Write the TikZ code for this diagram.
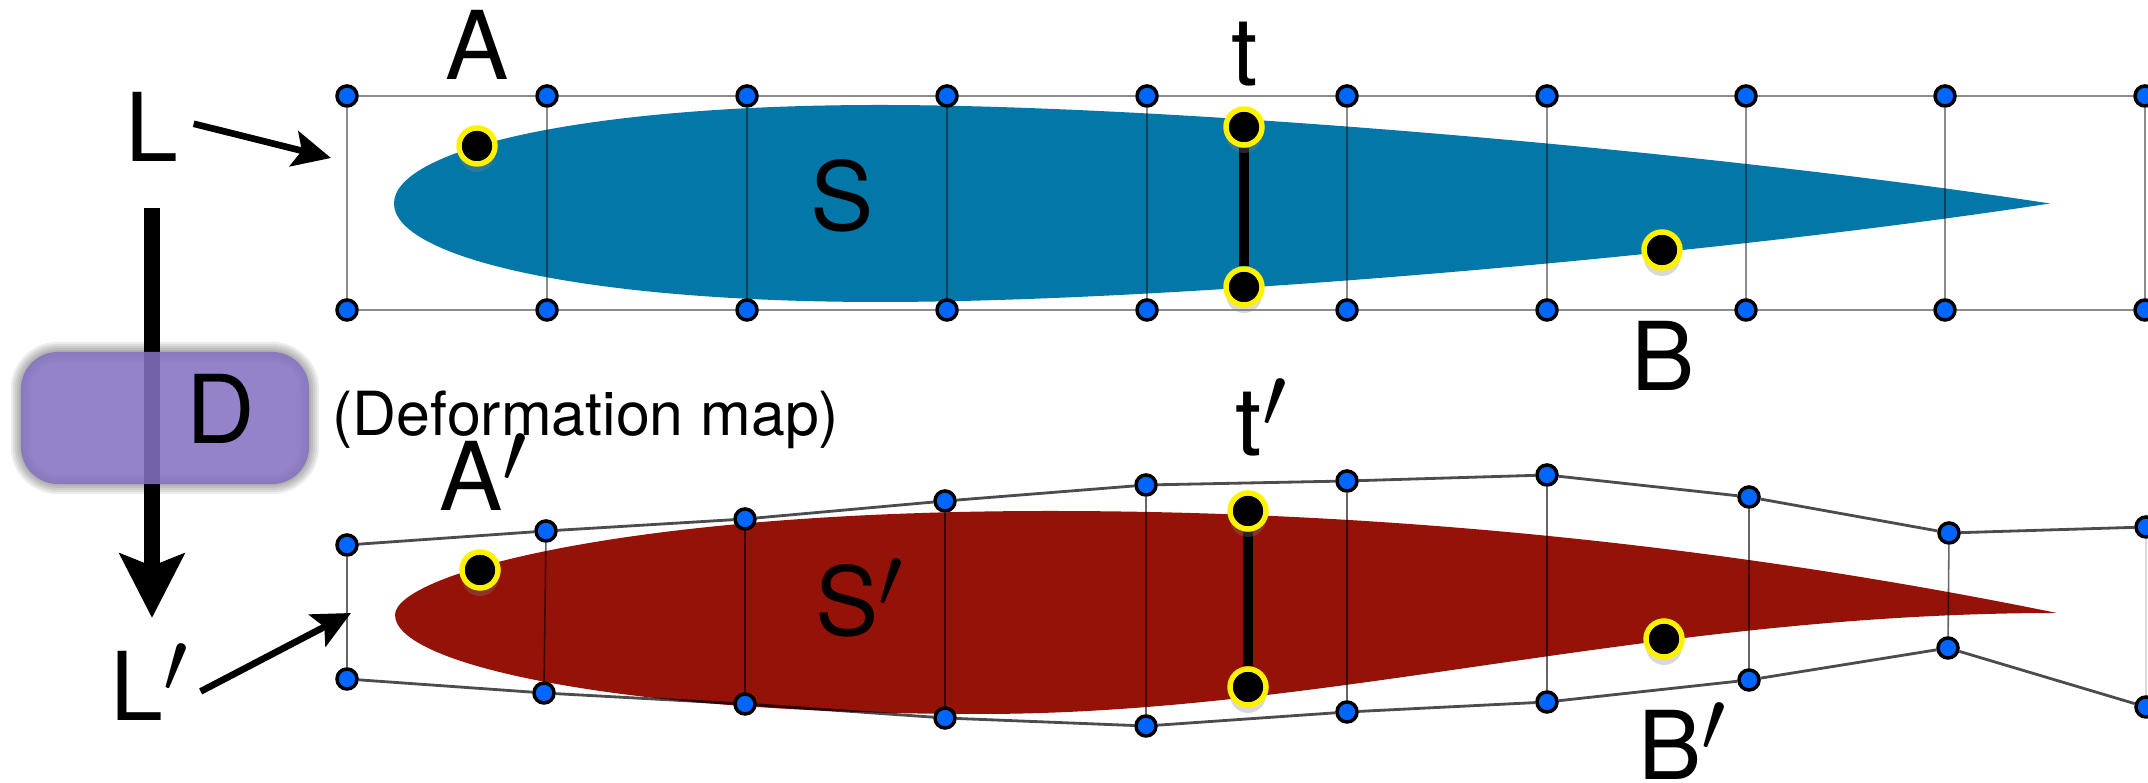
\documentclass[tikz,border=0pt]{standalone}
\usepackage{fontspec}
\setmainfont{TeX Gyre Heros}
\usetikzlibrary{arrows.meta,backgrounds,shadows}
\definecolor{WingBlue}{RGB}{2,119,168}
\definecolor{WingRed}{RGB}{149,18,8}
\definecolor{GridDot}{RGB}{0,102,255}
\definecolor{MapBand}{RGB}{132,113,192}
\definecolor{MarkYellow}{RGB}{255,242,0}
\newcommand{\primemark}{\raisebox{-0.03cm}[\height][0pt]{\fontsize{33}{33}\selectfont$'$}}
\tikzset{
  griddot/.style={circle, draw=black, fill=GridDot, line width=1pt, minimum size=0.2cm, inner sep=0pt},
  markdot/.style={circle, draw=MarkYellow, fill=black, line width=1.55pt, minimum size=0.36cm, inner sep=0pt,
    drop shadow={shadow xshift=0cm, shadow yshift=-0.08cm, opacity=0.3}},
  biglabel/.style={font=\fontsize{27}{27}\selectfont, anchor=base, inner sep=0pt},
  gridline/.style={black, opacity=0.45, line width=0.8pt},
  gridrung/.style={black, opacity=0.45, line width=0.45pt},
  warpline/.style={black, opacity=0.7, line width=0.8pt},
  warprung/.style={black, opacity=0.6, line width=0.45pt},
  pointer/.style={-{Stealth[length=0.38cm, width=0.36cm, inset=0.08cm]}, line width=1.9pt}
}

\begin{document}
\begin{tikzpicture}[x=0.01cm, y=-0.01cm]
  \useasboundingbox (0,0) rectangle (2148,783);

  \begin{scope}[on background layer]
    \fill[WingBlue] (394,203.5) .. controls (394,150) and (580,105) .. (880,105)
      .. controls (1170,105) and (1700,150) .. (2050,203.5)
      .. controls (1700,257) and (1170,302) .. (880,302)
      .. controls (580,302) and (394,257) .. (394,203.5) -- cycle;
    \fill[WingRed] (395,615) .. controls (395,575) and (620,511) .. (1050,511)
      .. controls (1300,511) and (1650,530) .. (2057,613)
      .. controls (1650,613) and (1330,714) .. (980,714)
      .. controls (620,714) and (395,665) .. (395,615) -- cycle;
  \end{scope}

  \foreach \x [count=\i] in {347,547,747,947,1147,1347,1547,1746,1945,2145} {
    \node[griddot] (upptop\i) at (\x,96) {};
    \node[griddot] (uppbot\i) at (\x,310) {};
  }
  \foreach \x/\y [count=\i] in {347/545,546/531,745/519,945/501,1146/485,1347/481,1547/475,1749/497,1949/533,2146/527} {
    \node[griddot] (lowtop\i) at (\x,\y) {};
  }
  \foreach \x/\y [count=\i] in {347/679,544/693,745/704,945/718,1146/726,1347/712,1547/702,1749/680,1948/648,2146/707} {
    \node[griddot] (lowbot\i) at (\x,\y) {};
  }

  \begin{scope}[on background layer]
    \foreach \i [remember=\i as \j (initially 1)] in {2,...,10} {
      \draw[gridline] (upptop\j) -- (upptop\i);
      \draw[gridline] (uppbot\j) -- (uppbot\i);
      \draw[warpline] (lowtop\j) -- (lowtop\i);
      \draw[warpline] (lowbot\j) -- (lowbot\i);
    }
    \foreach \i in {1,...,10} {
      \draw[gridrung] (upptop\i) -- (uppbot\i);
    }
    \foreach \i in {1,...,9} {
      \draw[warprung] (lowtop\i) -- (lowbot\i);
    }
    \draw[black!15, line width=0.4pt] (lowtop10) -- (lowbot10);
  \end{scope}

  \node[markdot] (dotA) at (477,146) {};
  \node[markdot] (dotTtop) at (1244,127) {};
  \node[markdot] (dotTbot) at (1244,287) {};
  \node[markdot] (dotB) at (1662,250) {};
  \node[markdot] (dotAp) at (480,570) {};
  \node[markdot] (dotTptop) at (1248,511) {};
  \node[markdot] (dotTpbot) at (1248,687) {};
  \node[markdot] (dotBp) at (1664,639) {};
  \begin{scope}[on background layer]
    \draw[black, line width=2.85pt] (dotTtop) -- (dotTbot);
    \draw[black, line width=2.85pt] (dotTptop) -- (dotTpbot);
  \end{scope}

  \node[biglabel] (labelA) at (477,80) {A};
  \node[biglabel] (labelT) at (1245,86) {t};
  \node[biglabel] (labelB) at (1663,391) {B};
  \node[biglabel] (labelS) at (842,231) {S};
  \node[biglabel] (labelL) at (152,162) {L};
  \node[biglabel] (labelAp) at (484,511) {A\primemark};
  \node[biglabel] (labelTp) at (1262,456) {t\primemark};
  \node[biglabel] (labelBp) at (1683,780) {B\primemark};
  \node[biglabel] (labelSp) at (860,636) {S\primemark};
  \node[biglabel] (labelLp) at (150,721) {L\primemark};
  \node[font=\fontsize{17.3}{17.3}\selectfont, anchor=base west, inner sep=0pt] (labelMap) at (332,436) {(Deformation map)};

  \coordinate (tipL) at (331,158);
  \coordinate (tipLp) at (351,613);
  \coordinate (tipDown) at (152,618);
  \draw[pointer, shorten <=0.15cm] (labelL.15) -- (tipL);
  \draw[pointer, shorten <=0.12cm] (labelLp.-22) -- (tipLp);
  \draw[-{Stealth[length=0.64cm, width=0.64cm, inset=0.12cm]}, line width=4.5pt, shorten <=0.45cm]
    (labelL.south -| tipDown) -- (tipDown);

  \foreach \w in {1,2.2,3.4,4.6,5.8} {
    \draw[black, opacity=0.07, line width=\w pt, rounded corners=0.37cm] (21,352) rectangle (309,484);
  }
  \node[fill=MapBand, fill opacity=0.87, text opacity=1, rounded corners=0.37cm, minimum width=2.88cm, minimum height=1.32cm] (mapBox) at (165,418) {};
  \node[biglabel] (labelD) at (221,444) {D};
\end{tikzpicture}
\end{document}
